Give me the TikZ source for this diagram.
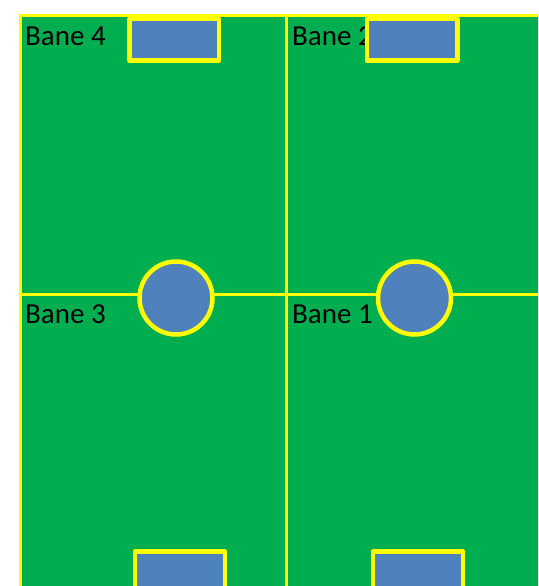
\documentclass[tikz,border=0pt]{standalone}
\usepackage{fontspec}
\setmainfont{Carlito}
\definecolor{fieldgreen}{HTML}{00AE50}
\definecolor{goalblue}{HTML}{4F81BD}
\definecolor{lineyellow}{HTML}{FFFF00}

\begin{document}
\begin{tikzpicture}[x=1pt, y=-1pt,
    fieldline/.style={lineyellow, line width=3pt},
    goal/.style={fill=goalblue, draw=lineyellow, line width=4.5pt, line join=round},
    lanelabel/.style={anchor=base west, inner sep=0pt, font=\fontsize{29}{34}\selectfont}]
    \useasboundingbox (0,0) rectangle (538,586);
    \clip (0,0) rectangle (538,586);
    % field
    \fill[fieldgreen] (20,16) rectangle (560,600);
    % lane names
    \node[lanelabel] (bane4) at (25,46) {Bane 4};
    \node[lanelabel] (bane2) at (292,46) {Bane 2};
    \node[lanelabel] (bane3) at (25,323) {Bane 3};
    \node[lanelabel] (bane1) at (292,323) {Bane 1};
    % lines
    \draw[fieldline] (20,600) -- (20,16) -- (560,16);
    \draw[fieldline] (286.5,16) -- (286.5,600);
    \draw[fieldline] (20,294) -- (560,294);
    % goals
    \draw[goal] (129.5,19) rectangle (219,60.5);
    \draw[goal] (367,19) rectangle (457.5,60.5);
    \draw[goal] (135,551.5) rectangle (225,600);
    \draw[goal] (373,551.5) rectangle (463,600);
    % centre spots
    \draw[goal] (176,298) circle (36.5pt);
    \draw[goal] (414.5,298) circle (36.5pt);
\end{tikzpicture}
\end{document}
